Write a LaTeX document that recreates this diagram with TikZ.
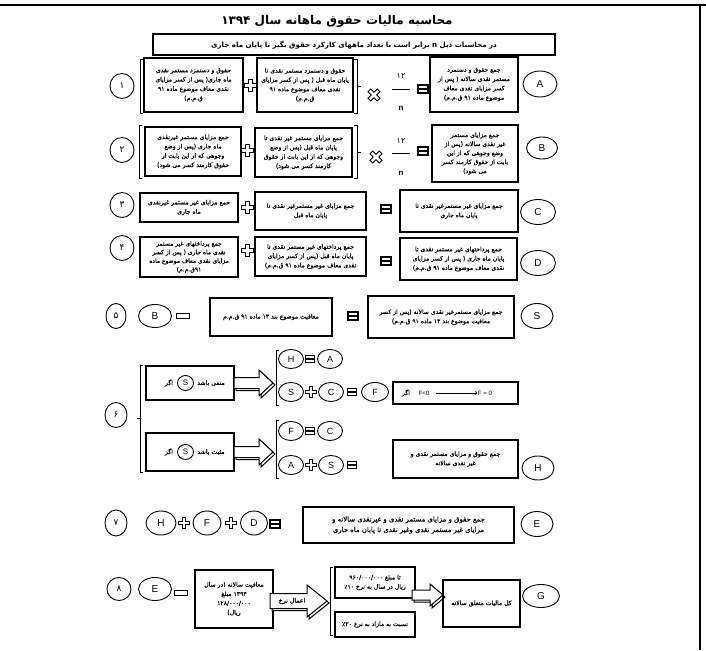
\documentclass[tikz,border=0pt]{standalone}
\usepackage{fontspec}
\usetikzlibrary{shapes.geometric}
\TeXXeTstate=1
\newfontfamily\fa[Script=Arabic]{DejaVu Sans}
\newfontfamily\fab[Script=Arabic, FakeBold=0.6]{DejaVu Sans}
\newfontfamily\lat{Liberation Sans}
\newcommand\prs[1]{\beginR #1\endR}
\newcommand\blkarrow[6]{%
  \foreach \d in {2,0}{%
    \draw[line width=1pt, fill=white, shift={(\d,\d)}] (#1,#3-#4) -- (#2-#6,#3-#4) -- (#2-#6,#3-#5) -- (#2,#3) -- (#2-#6,#3+#5) -- (#2-#6,#3+#4) -- (#1,#3+#4) -- cycle;}}
\begin{document}
\begin{tikzpicture}[x=1pt,y=-1pt,
  bx/.style={draw, line width=1.5pt, inner sep=0pt, align=center, font=\fab\fontsize{6.1}{9.3}\selectfont},
  ov/.style={draw, ellipse, line width=0.9pt, inner sep=0pt, font=\lat\fontsize{10}{10}\selectfont},
  num/.style={ov, font=\fa\fontsize{9}{9}\selectfont},
  sov/.style={ov, font=\lat\fontsize{9}{9}\selectfont, minimum width=25pt, minimum height=19pt},
  txt/.style={font=\fab\fontsize{6.2}{6.2}\selectfont, inner sep=0.5pt},
  brk/.style={line width=0.6pt},
  pls/.pic={\draw[line width=0.9pt, fill=white] (-2,-6)--(2,-6)--(2,-2)--(6,-2)--(6,2)--(2,2)--(2,6)--(-2,6)--(-2,2)--(-6,2)--(-6,-2)--(-2,-2)--cycle;},
  tms/.pic={\draw[line width=0.9pt, fill=white, rotate=45] (-2,-6.5)--(2,-6.5)--(2,-2)--(6.5,-2)--(6.5,2)--(2,2)--(2,6.5)--(-2,6.5)--(-2,2)--(-6.5,2)--(-6.5,-2)--(-2,-2)--cycle;},
  eqs/.pic={\draw[line width=1.4pt] (-5,-4) rectangle (5,4); \draw[line width=1.4pt] (-5,0)--(5,0);},
  mns/.pic={\draw[line width=1.4pt, fill=white] (-6.5,-2.5) rectangle (6.5,2.5);},
]
\useasboundingbox (0,0) rectangle (706,650);
% page frame
\draw[line width=1.5pt] (0,5) -- (706,5);
\draw[line width=1.2pt] (700,5) -- (700,650);

% title and banner
\node[font=\fa\bfseries\fontsize{12}{12}\selectfont] (title) at (337,21) {\prs{محاسبه مالیات حقوق ماهانه سال ۱۳۹۴}};
\node[draw, line width=2pt, minimum width=402pt, minimum height=21pt, inner sep=0pt, font=\fa\bfseries\fontsize{7.1}{7.1}\selectfont] (ban) at (354,45) {\prs{در محاسبات ذیل n برابر است با تعداد ماههای کارکرد حقوق بگیر تا پایان ماه جاری}};

% ---------- row 1
\node[num, minimum width=24pt, minimum height=25pt] (n1) at (122,86) {۱};
\node[bx, minimum width=99pt, minimum height=54pt] (b1l) at (193.5,85) {\prs{حقوق و دستمزد مستمر نقدی}\\\prs{ماه جاری( پس از کسر مزایای}\\\prs{نقدی معاف موضوع ماده ۹۱}\\\prs{ق.م.م)}};
\node[bx, minimum width=96pt, minimum height=54pt] (b1m) at (305,85) {\prs{حقوق و دستمزد مستمر نقدی تا}\\\prs{پایان ماه قبل ( پس از کسر مزایای}\\\prs{نقدی معاف موضوع ماده ۹۱}\\\prs{ق.م.م)}};
\node[bx, minimum width=88pt, minimum height=55pt] (b1r) at (474,84.5) {\prs{جمع حقوق و دستمزد}\\\prs{مستمر نقدی سالانه ( پس از}\\\prs{کسر مزایای نقدی معاف}\\\prs{موضوع ماده ۹۱ ق.م.م)}};
\node[ov, minimum width=34pt, minimum height=26pt] (oA) at (540,84) {A};
\draw[brk] (143,59) -- (140,59) -- (140,113) -- (143,113);
\draw[brk] (354,59) -- (357,59) -- (357,113) -- (354,113) (357,86) -- (361,86);
\pic at (250,85) {pls};
\pic at (374,95) {tms};
\node[font=\fa\fontsize{8}{8}\selectfont] (t1) at (401,76) {۱۲};
\draw[line width=0.6pt] (392,89) -- (410,89);
\node[font=\lat\bfseries\fontsize{8}{8}\selectfont] (m1) at (401,108) {n};
\pic at (423,89) {eqs};

% ---------- row 2
\node[num, minimum width=24pt, minimum height=25pt] (n2) at (122,150) {۲};
\node[bx, minimum width=96pt, minimum height=49pt] (b2l) at (193,151.5) {\prs{جمع مزایای مستمر غیرنقدی}\\\prs{ماه جاری (پس از وضع}\\\prs{وجوهی که از این بابت از}\\\prs{حقوق کارمند کسر می شود)}};
\node[bx, minimum width=97pt, minimum height=49pt] (b2m) at (303.5,152.5) {\prs{جمع مزایای مستمر غیر نقدی تا}\\\prs{پایان ماه قبل (پس از وضع}\\\prs{وجوهی که از این بابت از حقوق}\\\prs{کارمند کسر می شود)}};
\node[bx, minimum width=86pt, minimum height=57pt, font=\fab\fontsize{6.1}{9}\selectfont] (b2r) at (475,153.5) {\prs{جمع مزایای مستمر}\\\prs{غیر نقدی سالانه (پس از}\\\prs{وضع وجوهی که از این}\\\prs{بابت از حقوق کارمند کسر}\\\prs{می شود)}};
\node[ov, minimum width=31pt, minimum height=22pt] (oB) at (542,148) {B};
\draw[brk] (142,125) -- (139,125) -- (139,178) -- (142,178);
\draw[brk] (354,125) -- (357,125) -- (357,178) -- (354,178) (357,152) -- (361,152);
\pic at (247,150) {pls};
\pic at (376,157) {tms};
\node[font=\fa\fontsize{8}{8}\selectfont] (t2) at (401,141) {۱۲};
\draw[line width=0.6pt] (392,153) -- (410,153);
\node[font=\lat\bfseries\fontsize{8}{8}\selectfont] (m2) at (401,173) {n};
\pic at (423,151) {eqs};

% ---------- row 3
\node[num, minimum width=24pt, minimum height=25pt] (n3) at (122,205) {۳};
\node[bx, minimum width=98pt, minimum height=29pt] (b3l) at (189,207.5) {\prs{جمع مزایای غیر مستمر غیرنقدی}\\\prs{ماه جاری}};
\node[bx, minimum width=111pt, minimum height=38pt] (b3m) at (310.5,211) {\prs{جمع مزایای غیر مستمرغیر نقدی تا}\\\prs{پایان ماه قبل}};
\node[bx, minimum width=118pt, minimum height=42pt] (b3r) at (459,211) {\prs{جمع مزایای غیر مستمرغیر نقدی تا}\\\prs{پایان ماه جاری}};
\node[ov, minimum width=35pt, minimum height=25pt] (oC) at (538,212) {C};
\pic at (247,207) {pls};
\pic at (386,209) {eqs};

% ---------- row 4
\node[num, minimum width=24pt, minimum height=25pt] (n4) at (122,248) {۴};
\node[bx, minimum width=98pt, minimum height=40pt, font=\fab\fontsize{6}{8.6}\selectfont] (b4l) at (189,257) {\prs{جمع پرداختهای غیر مستمر}\\\prs{نقدی ماه جاری ( پس از کسر}\\\prs{مزایای نقدی معاف موضوع ماده}\\\prs{۹۱ق.م.م)}};
\node[bx, minimum width=111pt, minimum height=39pt] (b4m) at (310.5,256.5) {\prs{جمع پرداختهای غیر مستمر نقدی تا}\\\prs{پایان ماه قبل (پس از کسر مزایای}\\\prs{نقدی معاف موضوع ماده ۹۱ ق.م.م)}};
\node[bx, minimum width=117pt, minimum height=42pt] (b4r) at (458.5,259) {\prs{جمع پرداختهای غیر مستمر نقدی تا}\\\prs{پایان ماه جاری ( پس از کسر مزایای}\\\prs{نقدی معاف موضوع ماده ۹۱ ق.م.م)}};
\node[ov, minimum width=35pt, minimum height=25pt] (oD) at (538,263) {D};
\pic at (247,250) {pls};
\pic at (386,261) {eqs};

% ---------- row 5
\node[num, minimum width=20pt, minimum height=25pt] (n5) at (116,316) {۵};
\node[ov, minimum width=33pt, minimum height=23pt] (oB5) at (155,316) {B};
\pic at (183,316) {mns};
\node[bx, minimum width=122pt, minimum height=38pt] (b5a) at (271,317) {\prs{معافیت موضوع بند ۱۳ ماده ۹۱ ق.م.م}};
\pic at (353,316) {eqs};
\node[bx, minimum width=146pt, minimum height=42pt] (b5b) at (441,317) {\prs{جمع مزایای مستمرغیر نقدی سالانه (پس از کسر}\\\prs{معافیت موضوع بند ۱۳ ماده ۹۱ ق.م.م)}};
\node[ov, minimum width=32pt, minimum height=25pt] (oS5) at (537,316) {S};

% ---------- row 6
\node[num, minimum width=22pt, minimum height=25pt] (n6) at (116,415) {۶};
\draw[brk] (143,365) -- (140,365) -- (140,472) -- (143,472) (140,418) -- (137,418);
\node[bx, minimum width=88pt, minimum height=34pt] (b6a) at (190,383) {};
\node[txt] (a1) at (169,383) {\prs{اگر}};
\node[ov, font=\lat\fontsize{8}{8}\selectfont, minimum width=16pt, minimum height=15pt] (sa) at (185.5,383) {S};
\node[txt] (a2) at (211,383) {\prs{منفی باشد}};
\blkarrow{234}{273}{383}{5.5}{13}{14}
\draw[brk] (279,350) -- (276,350) -- (276,405) -- (279,405);
\node[sov] (h1) at (291,359) {H};
\pic[scale=0.9] at (310,359) {eqs};
\node[sov] (a3) at (330,359) {A};
\node[sov] (s1) at (291,392) {S};
\pic[scale=0.9] at (311,392) {pls};
\node[sov] (c1) at (331,392) {C};
\pic[scale=0.9] at (352,392) {eqs};
\node[sov, minimum width=27pt] (f1) at (375,392) {F};
\node[bx, minimum width=125pt, minimum height=22pt] (b6f) at (455.5,393) {};
\node[txt] (ag) at (406,393) {\prs{اگر}};
\node[font=\lat\fontsize{6.2}{6.2}\selectfont, inner sep=0.5pt] (fa) at (424,393) {F<0};
\node[font=\lat\fontsize{6.2}{6.2}\selectfont, inner sep=0.5pt] (fb) at (485,393) {F = 0};
\draw[->, line width=0.5pt] (fa.east) ++(6,0) -- (fb.west);

\node[bx, minimum width=88pt, minimum height=38pt] (b6b) at (190,452) {};
\node[txt] (a4) at (169,452) {\prs{اگر}};
\node[ov, font=\lat\fontsize{8}{8}\selectfont, minimum width=16pt, minimum height=15pt] (sb) at (185.5,452) {S};
\node[txt] (a5) at (211,452) {\prs{مثبت باشد}};
\blkarrow{234}{273}{452}{5.5}{13}{14}
\draw[brk] (279,420) -- (276,420) -- (276,478) -- (279,478);
\node[sov] (f2) at (291,431) {F};
\pic[scale=0.9] at (310,431) {eqs};
\node[sov] (c2) at (330,431) {C};
\node[sov] (a6) at (291,465) {A};
\pic[scale=0.9] at (311,465) {pls};
\node[sov] (s2) at (331,465) {S};
\pic[scale=0.9] at (352,465) {eqs};
\node[bx, minimum width=125pt, minimum height=38pt] (b6h) at (455.5,459) {\prs{جمع حقوق و مزایای مستمر نقدی و}\\\prs{غیر نقدی سالانه}};
\node[ov, minimum width=32pt, minimum height=24pt] (oH) at (538,468) {H};

% ---------- row 7
\node[num, minimum width=22pt, minimum height=26pt] (n7) at (116,523) {۷};
\node[ov, minimum width=30pt, minimum height=24pt] (h7) at (161,523) {H};
\pic[scale=0.9] at (184,523) {pls};
\node[ov, minimum width=28pt, minimum height=24pt] (f7) at (207,523) {F};
\pic[scale=0.9] at (231,523) {pls};
\node[ov, minimum width=27pt, minimum height=24pt] (d7) at (254,523) {D};
\pic at (275,524) {eqs};
\node[bx, minimum width=211pt, minimum height=36pt, font=\fab\fontsize{6.9}{10.5}\selectfont] (b7) at (408.5,525) {\prs{جمع حقوق و مزایای مستمر نقدی و غیرنقدی سالانه و}\\\prs{مزایای غیر مستمر نقدی وغیر نقدی تا پایان ماه جاری}};
\node[ov, minimum width=32pt, minimum height=25pt] (oE) at (537,524) {E};

% ---------- row 8
\node[num, minimum width=24pt, minimum height=23pt] (n8) at (119,589) {۸};
\node[ov, minimum width=33pt, minimum height=23pt] (e8) at (155,589) {E};
\pic at (181,593) {mns};
\node[bx, minimum width=78pt, minimum height=58pt] (b8a) at (234,599) {\prs{معافیت سالانه (در سال}\\\prs{۱۳۹۴ مبلغ}\\\prs{۱۲۸/۰۰۰/۰۰۰}\\\prs{ریال)}};
\blkarrow{270}{327}{601}{7.5}{16}{20}
\node[txt] (rate) at (292,601) {\prs{اعمال نرخ}};
\draw[brk] (333,567) -- (330,567) -- (330,635) -- (333,635);
\node[bx, minimum width=80pt, minimum height=31pt] (b8t) at (375,582.5) {\prs{تا مبلغ ۹۶۰/۰۰۰/۰۰۰}\\\prs{ریال در سال به نرخ ٪۱۰}};
\node[bx, minimum width=80pt, minimum height=25pt] (b8b) at (375,624.5) {\prs{نسبت به مازاد به نرخ ٪۲۰}};
\blkarrow{412}{443}{595}{5}{11}{13}
\node[bx, minimum width=77pt, minimum height=47pt] (b8g) at (481.5,603.5) {\prs{کل مالیات متعلق سالانه}};
\node[ov, minimum width=37pt, minimum height=23pt] (oG) at (541,596) {G};
\end{tikzpicture}
\end{document}
